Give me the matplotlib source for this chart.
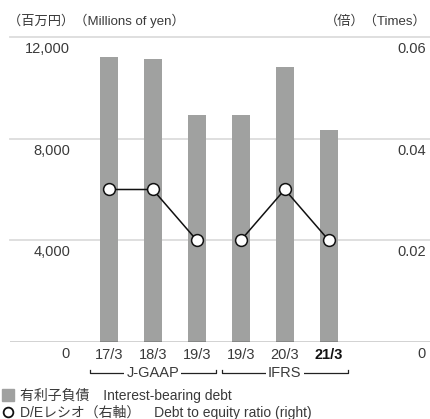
import numpy as np
import matplotlib
matplotlib.use("Agg")
import matplotlib.pyplot as plt
from matplotlib.transforms import offset_copy, blended_transform_factory
from matplotlib.lines import Line2D

plt.rcParams['font.family'] = ['Liberation Sans', 'Noto Sans CJK JP', 'DejaVu Sans']

# data
periods = ['17/3', '18/3', '19/3', '19/3', '20/3', '21/3']
standards = ['J-GAAP', 'J-GAAP', 'J-GAAP', 'IFRS', 'IFRS', 'IFRS']
debt = [11200, 11130, 8930, 8930, 10820, 8340]
de_ratio = [0.03, 0.03, 0.02, 0.02, 0.03, 0.02]
left_ticks = [0, 4000, 8000, 12000]
left_labels = ['0', '4,000', '8,000', '12,000']
right_ticks = [0, 0.02, 0.04, 0.06]
right_labels = ['0', '0.02', '0.04', '0.06']

BAR = '#a0a1a0'
GRID = '#dcdcdc'
TXT = '#3a3a3a'

fig = plt.figure(figsize=(4.3, 4.19), dpi=100)
ax = fig.add_axes([10 / 430, 77 / 419, 420 / 430, 305 / 419])
ax2 = ax.twinx()

x = np.arange(len(periods))
ax.bar(x, debt, width=0.41, color=BAR, zorder=2)
ax.set_xlim(-2.245, 7.3)
ax.set_ylim(0, 12000)
ax2.set_ylim(0, 0.06)

for v in left_ticks[1:]:
    ax.axhline(v, color=GRID, lw=1.3, zorder=1, clip_on=False)
ax.axhline(0, color='#222222', lw=1.0, zorder=3)

for a in (ax, ax2):
    for s in a.spines.values():
        s.set_visible(False)
    a.set_yticks([])
ax.set_xticks(x, periods)
ax.tick_params(axis='x', length=0, pad=4, labelsize=10.5, labelcolor=TXT)
ax.get_xticklabels()[-1].set_fontweight('bold')
ax.get_xticklabels()[-1].set_color('#111111')

# y labels sit under the gridlines
tl = blended_transform_factory(ax.transAxes, ax.transData)
tr = blended_transform_factory(ax2.transAxes, ax2.transData)
for v, lab in zip(left_ticks, left_labels):
    ax.text(0.143, v, lab, transform=offset_copy(tl, fig=fig, y=-12, units='dots'),
            ha='right', va='center', fontsize=10.5, color=TXT)
for v, lab in zip(right_ticks, right_labels):
    ax2.text(0.99, v, lab, transform=offset_copy(tr, fig=fig, y=-12, units='dots'),
             ha='right', va='center', fontsize=10.5, color=TXT)

# D/E ratio line, broken between accounting standards
for std in ['J-GAAP', 'IFRS']:
    idx = [i for i, s in enumerate(standards) if s == std]
    ax2.plot(x[idx], [de_ratio[i] for i in idx], color='#111111', lw=1.1,
             marker='o', ms=8.5, mfc='white', mec='#111111', mew=1.1, zorder=4)

# accounting standard brackets
bt = blended_transform_factory(ax.transData, ax.transAxes)
for std in ['J-GAAP', 'IFRS']:
    idx = [i for i, s in enumerate(standards) if s == std]
    x0, x1 = idx[0] - 0.43, idx[-1] + 0.43
    ax.plot([x0, x0, x1, x1], [-0.092, -0.102, -0.102, -0.092], color='#222222',
            lw=0.9, transform=bt, clip_on=False)
    ax.text((x0 + x1) / 2, -0.102, std, transform=bt, ha='center', va='center',
            fontsize=10.5, color=TXT,
            bbox=dict(facecolor='white', edgecolor='none', pad=1.5))

# unit headers
fig.text(8 / 430, 1 - 21 / 419, '（百万円）（Millions of yen）', ha='left', va='center',
         fontsize=9.5, color=TXT)
fig.text(427 / 430, 1 - 21 / 419, '（倍）（Times）', ha='right', va='center',
         fontsize=9.5, color=TXT)

# legend
handles = [Line2D([], [], ls='none', marker='s', ms=8, mfc=BAR, mec=BAR),
           Line2D([], [], ls='none', marker='o', ms=7, mfc='white', mec='#111111', mew=1.3)]
labels = ['有利子負債\u3000Interest-bearing debt',
          'D/Eレシオ（右軸）\u3000Debt to equity ratio (right)']
fig.legend(handles, labels, loc='upper left', bbox_to_anchor=(0.0, 1 - 385 / 419),
           frameon=False, fontsize=10, handlelength=0.8, handletextpad=0.45,
           labelspacing=0.15, borderaxespad=0, borderpad=0.2, labelcolor=TXT)

fig.savefig('out.png', dpi=100)
